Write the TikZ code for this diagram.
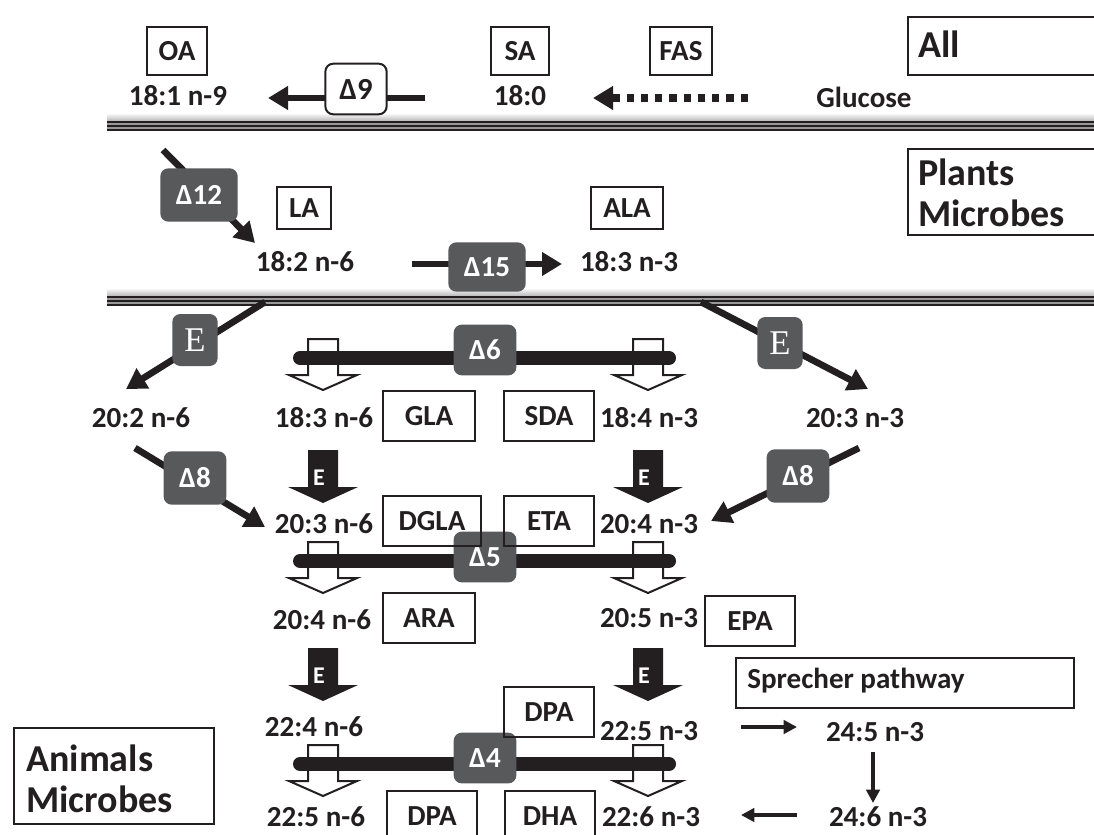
\documentclass[tikz,border=0pt]{standalone}
\usepackage{fontspec}
\setmainfont{Carlito}
\newfontfamily\serifE{Liberation Serif}
\usetikzlibrary{arrows.meta}
\definecolor{dg}{HTML}{58595B}
\definecolor{ink}{HTML}{231F20}
\begin{document}
\begin{tikzpicture}[x=0.75pt,y=-0.75pt,
  every node/.style={font=\bfseries\fontsize{21.8}{25}\selectfont, text=ink, inner sep=0pt},
  big/.style={font=\bfseries\fontsize{28.5}{32}\selectfont},
  lb/.style 2 args={draw=ink, line width=1.6pt, minimum width=#1, minimum height=#2},
  dbox/.style 2 args={fill=dg, rounded corners=6pt, text=white, minimum width=#1, minimum height=#2},
  ebox/.style={dbox={34pt}{39pt}, font=\serifE\fontsize{26}{28}\selectfont},
  wbox/.style={draw=ink, fill=white, line width=1.5pt, rounded corners=6pt, minimum width=46pt, minimum height=38pt},
  arr/.style={draw=ink, line width=5pt, -{Triangle[length=15pt,width=17pt]}},
  dotarr/.style={draw=ink, line width=5.5pt, dash pattern=on 5.5pt off 5.2pt, -{Triangle[length=15pt,width=17pt]}},
  thin/.style={draw=ink, line width=3pt, -{Triangle[length=10pt,width=10pt]}},
  bar/.style={draw=ink, line width=10.5pt, line cap=round},
  hol/.style={draw=ink, fill=white, line width=1.5pt},
  sol/.style={fill=ink},
]
\clip (0,0) rectangle (1094,834);
\fill[white] (0,0) rectangle (1094,834);

% separators
\shade[top color=white, bottom color=black!28] (107,113) rectangle (1094,121);
\fill[black!40] (107,121) rectangle (1094,131);
\foreach \yy in {122,126,130} \draw[ink, line width=1.2pt] (107,\yy) -- (1094,\yy);
\shade[top color=white, bottom color=black!28] (107,288) rectangle (1094,296);
\fill[black!40] (107,296) rectangle (1094,306);
\foreach \yy in {297,301,305} \draw[ink, line width=1.2pt] (107,\yy) -- (1094,\yy);

% ---------- top: All ----------
\node[lb={45pt}{36pt}] (OA) at (177,51) {OA};
\node (c181) at (178,96) {18:1 n-9};
\node[lb={43pt}{36pt}] (SA) at (520,51) {SA};
\node (c180) at (520,96) {18:0};
\node[lb={47pt}{36pt}] (FAS) at (681,51) {FAS};
\node (glu) at (864,97) {Glucose};
\node[lb={150pt}{44pt}] (allb) at (1008,46) {};
\node[big, anchor=west] (allt) at (918,44) {All};
\coordinate (d9s) at (425,98);
\coordinate (d9e) at (268,98);
\draw[arr] (d9s) -- (d9e);
\node[wbox, font=\bfseries\fontsize{23}{25}\selectfont] (d9) at (356,89) {Δ9};
\coordinate (fs) at (748,98);
\coordinate (fe) at (593,98);
\draw[dotarr] (fs) -- (fe);

% ---------- middle: Plants Microbes ----------
\node[lb={150pt}{64pt}] (pmb) at (1008,192) {};
\node[big, anchor=west] (pm1) at (918,172) {Plants};
\node[big, anchor=west] (pm2) at (918,213) {Microbes};
\coordinate (d12s) at (163,150);
\coordinate (d12e) at (255,243);
\draw[arr] (d12s) -- (d12e);
\node[dbox={58pt}{40pt}] (d12) at (199,195) {Δ12};
\node[lb={41pt}{32pt}] (LA) at (304,208) {LA};
\node (c182) at (305,262) {18:2 n-6};
\node[lb={54pt}{32pt}] (ALA) at (627,208) {ALA};
\node (c183n3) at (629,262) {18:3 n-3};
\coordinate (d15s) at (412,264);
\coordinate (d15e) at (562,264);
\draw[arr] (d15s) -- (d15e);
\node[dbox={58pt}{37pt}] (d15) at (487,267) {Δ15};

% ---------- lower: Animals Microbes ----------
% elongase diagonals
\coordinate (e1s) at (265,302);
\coordinate (e1e) at (126,389);
\draw[arr] (e1s) -- (e1e);
\node[ebox] (e1) at (195,340) {E};
\coordinate (e2s) at (701,302);
\coordinate (e2e) at (868,389);
\draw[arr] (e2s) -- (e2e);
\node[ebox] (e2) at (780,343) {E};
% delta 8 diagonals
\coordinate (d8as) at (135,448);
\coordinate (d8ae) at (265,527);
\draw[arr] (d8as) -- (d8ae);
\node[dbox={47pt}{40pt}] (d8a) at (195,478) {Δ8};
\coordinate (d8bs) at (859,448);
\coordinate (d8be) at (711,521);
\draw[arr] (d8bs) -- (d8be);
\node[dbox={47pt}{40pt}] (d8b) at (798,476) {Δ8};

% hollow desaturase arrows (x, bar centre y)
\foreach \tx/\by in {323/358, 648/358, 323/561, 648/561, 323/764, 648/764}{
  \draw[hol] (\tx-15,\by-19) -- (\tx+15,\by-19) -- (\tx+15,\by+17) -- (\tx+34,\by+17)
     -- (\tx,\by+32) -- (\tx-34,\by+17) -- (\tx-15,\by+17) -- cycle;
}
% bars
\draw[bar] (300,358) -- (669,358);
\draw[bar] (300,561) -- (669,561);
\draw[bar] (300,764) -- (669,764);
\node[dbox={47pt}{38pt}] (d6) at (485,350) {Δ6};
\node[dbox={47pt}{38pt}] (d5) at (485,557) {Δ5};
\node[dbox={47pt}{38pt}] (d4) at (485,758) {Δ4};

% solid elongase arrows
\foreach \tx/\ty/\nm in {323/503/ea, 648/503/eb, 323/701/ec, 648/701/ed}{
  \fill[sol] (\tx-15,\ty-53) -- (\tx+15,\ty-53) -- (\tx+15,\ty-16) -- (\tx+35,\ty-16)
     -- (\tx,\ty) -- (\tx-35,\ty-16) -- (\tx-15,\ty-16) -- cycle;
  \node[text=white, font=\bfseries\fontsize{18}{20}\selectfont] (\nm) at (\tx-4,\ty-25) {E};
}

% fatty acid labels
\node (c202) at (141,418) {20:2 n-6};
\node (c183n6) at (324,418) {18:3 n-6};
\node (c184) at (649,418) {18:4 n-3};
\node (c203n3) at (855,418) {20:3 n-3};
\node (c203n6) at (324,524) {20:3 n-6};
\node (c204n3) at (649,524) {20:4 n-3};
\node (c204n6) at (322,620) {20:4 n-6};
\node (c205) at (649,618) {20:5 n-3};
\node (c224) at (314,727) {22:4 n-6};
\node (c225n3) at (649,731) {22:5 n-3};
\node (c245) at (875,732) {24:5 n-3};
\node (c225n6) at (316,817) {22:5 n-6};
\node (c226) at (651,817) {22:6 n-3};
\node (c246) at (878,817) {24:6 n-3};

% trivial-name boxes
\node[lb={69pt}{38pt}] (GLA) at (429,416) {GLA};
\node[lb={68pt}{38pt}] (SDA) at (549,416) {SDA};
\node[lb={73pt}{38pt}] (DGLA) at (432,521) {DGLA};
\node[lb={68pt}{38pt}] (ETA) at (549,521) {ETA};
\node[lb={69pt}{38pt}] (ARA) at (429,618) {ARA};
\node[lb={68pt}{38pt}] (EPA) at (750,621) {EPA};
\node[lb={68pt}{38pt}] (DPA1) at (549,712) {DPA};
\node[lb={67pt}{38pt}] (DPA2) at (432,816) {DPA};
\node[lb={68pt}{38pt}] (DHA) at (550,816) {DHA};

% Sprecher pathway
\node[lb={253pt}{38pt}] (spb) at (905,683) {};
\node[anchor=west] (spt) at (747,681) {Sprecher pathway};
\coordinate (s1s) at (741,727);
\coordinate (s1e) at (797,727);
\draw[thin] (s1s) -- (s1e);
\coordinate (s2s) at (873,752);
\coordinate (s2e) at (873,803);
\draw[thin] (s2s) -- (s2e);
\coordinate (s3s) at (797,815);
\coordinate (s3e) at (741,815);
\draw[thin] (s3s) -- (s3e);

% Animals Microbes
\node[lb={150pt}{72pt}] (amb) at (114,776) {};
\node[big, anchor=west] (am1) at (26,758) {Animals};
\node[big, anchor=west] (am2) at (26,799) {Microbes};
\end{tikzpicture}
\end{document}
